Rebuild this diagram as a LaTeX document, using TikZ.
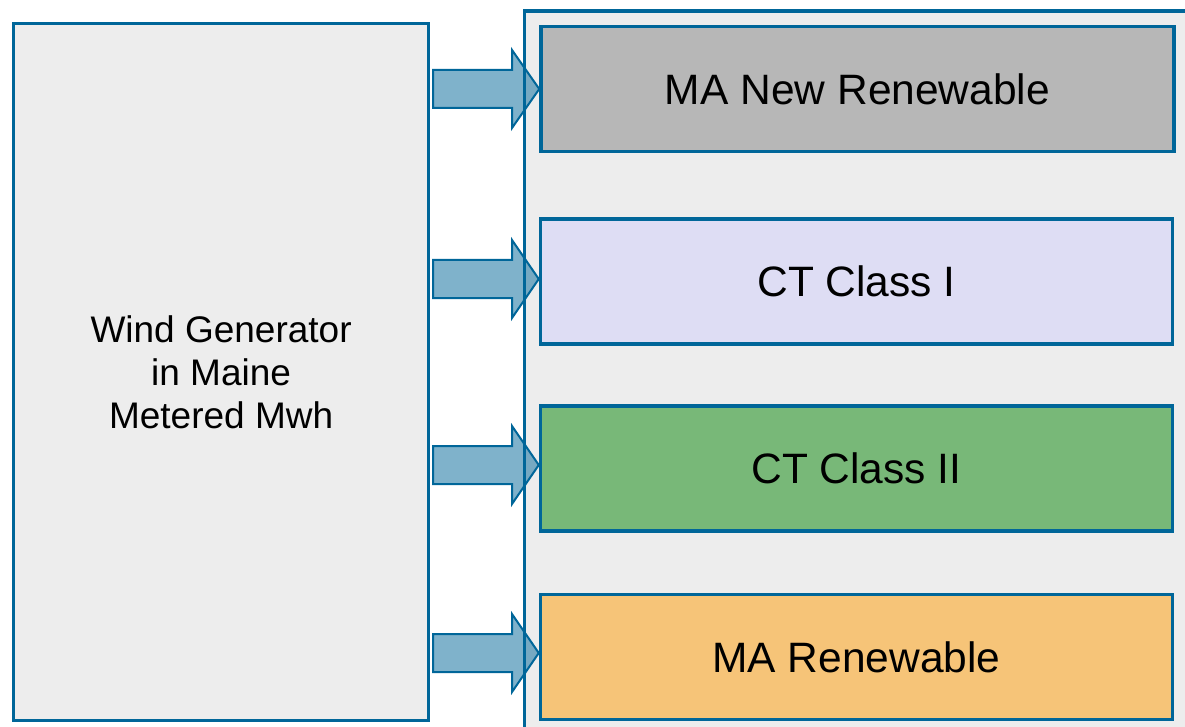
\documentclass[tikz,border=0pt]{standalone}
\usepackage{fontspec}
\setmainfont{Liberation Sans}
\usetikzlibrary{calc}
\definecolor{edge}{HTML}{006699}
\definecolor{panel}{HTML}{EDEDED}
\definecolor{cA}{HTML}{B7B7B7}
\definecolor{cB}{HTML}{DEDDF4}
\definecolor{cC}{HTML}{78B878}
\definecolor{cD}{HTML}{F6C478}
\tikzset{
  panelbox/.style={draw=edge, line width=3.2pt, fill=panel},
  catbox/.style={draw=edge, line width=3.5pt, minimum width=632pt, minimum height=125pt, inner sep=0pt, font=\fontsize{42.5}{50}\selectfont, text=black},
  blockarrow/.style={draw=edge, line width=2pt, fill=edge, fill opacity=0.5, line join=miter}
}
\begin{document}
\begin{tikzpicture}[x=1pt,y=-1pt]
\useasboundingbox (0,0) rectangle (1185,727);
\clip (0,0) rectangle (1185,727);
\fill[white] (0,0) rectangle (1185,727);
% right container
\draw[panelbox] (524.5,11) rectangle (1220,760);
% left box
\node[panelbox, minimum width=415pt, minimum height=697pt, inner sep=0pt, anchor=north west, align=center, font=\fontsize{37}{43}\selectfont] (L) at (12,22) {Wind Generator\\ in Maine\\Metered Mwh};
% category boxes
\node[catbox, fill=cA, minimum width=633pt] (b1) at (857.5,89) {MA New Renewable};
\node[catbox, fill=cB] (b2) at (856.5,281.5) {CT Class I};
\node[catbox, fill=cC] (b3) at (856.5,468.5) {CT Class II};
\node[catbox, fill=cD] (b4) at (856.5,657) {MA Renewable};
% block arrows
\foreach \b/\y in {b1/89, b2/279, b3/465, b4/653}{
  \coordinate (s\b) at ($(L.east)+(3,0)$);
  \draw[blockarrow] ($(s\b |- 0,\y)+(0,-19)$) -- (512,\y-19) -- (512,\y-39) -- ($(\b.west |- 0,\y)$) -- (512,\y+39) -- (512,\y+19) -- ($(s\b |- 0,\y)+(0,19)$) -- cycle;
}
\end{tikzpicture}
\end{document}
